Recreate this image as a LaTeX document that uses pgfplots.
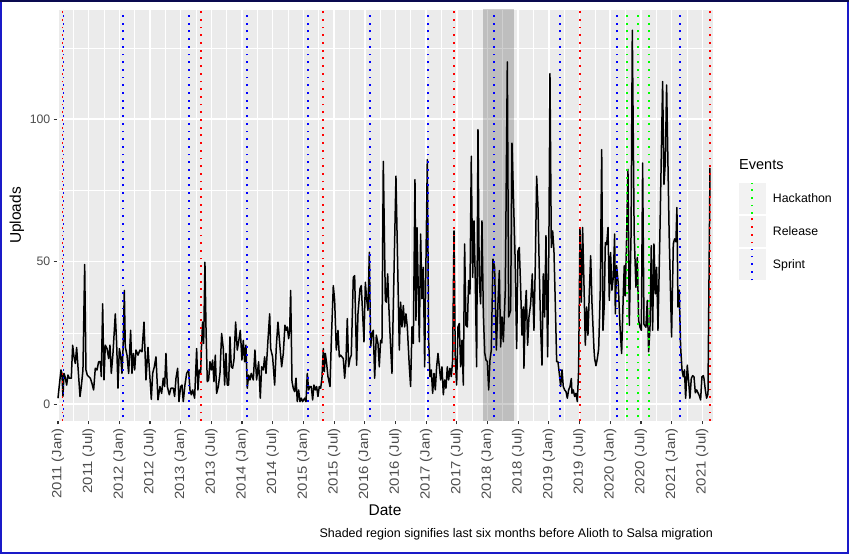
\documentclass[border=0pt]{standalone}
\usepackage{pgfplots}
\pgfplotsset{compat=1.18}
\usepackage{fontspec}
\setmainfont{Liberation Sans}
\newfontfamily\rotfont[FakeStretch=1.12]{Liberation Sans}
\definecolor{panelbg}{HTML}{EBEBEB}
\definecolor{keybg}{HTML}{F2F2F2}
\definecolor{tickcol}{HTML}{333333}
\definecolor{ticklab}{HTML}{4D4D4D}
\definecolor{frameblue}{HTML}{1A1AC8}
\definecolor{framenavy}{HTML}{0A0A50}
\definecolor{sprintc}{HTML}{0000FF}
\definecolor{releasec}{HTML}{FF0000}
\definecolor{hackc}{HTML}{00FF00}
\newcommand{\smallfont}{\fontsize{12.3}{14}\selectfont}
\newcommand{\rotsmall}{\rotfont\fontsize{13.3}{15}\selectfont}
\newcommand{\bigfont}{\fontsize{15.5}{18}\selectfont}
\begin{document}
\begin{tikzpicture}[x=1pt,y=1pt]
\path[use as bounding box] (0,0) rectangle (849,554);
\begin{axis}[
  at={(57pt,133pt)}, anchor=south west,
  scale only axis, width=656pt, height=411pt,
  xmin=2010.984, xmax=2021.675, ymin=-5.9, ymax=138.3,
  axis background/.style={fill=panelbg},
  axis line style={draw=none},
  xtick={2011,2011.5,2012,2012.5,2013,2013.5,2014,2014.5,2015,2015.5,2016,2016.5,2017,2017.5,2018,2018.5,2019,2019.5,2020,2020.5,2021,2021.5},
  xticklabels={2011 (Jan),2011 (Jul),2012 (Jan),2012 (Jul),2013 (Jan),2013 (Jul),2014 (Jan),2014 (Jul),2015 (Jan),2015 (Jul),2016 (Jan),2016 (Jul),2017 (Jan),2017 (Jul),2018 (Jan),2018 (Jul),2019 (Jan),2019 (Jul),2020 (Jan),2020 (Jul),2021 (Jan),2021 (Jul)},
  minor xtick={2011.25,2011.75,2012.25,2012.75,2013.25,2013.75,2014.25,2014.75,2015.25,2015.75,2016.25,2016.75,2017.25,2017.75,2018.25,2018.75,2019.25,2019.75,2020.25,2020.75,2021.25},
  ytick={0,50,100}, yticklabels={0,50,100}, minor ytick={25,75,125},
  grid=both,
  major grid style={white, line width=1.5pt},
  minor grid style={white, line width=0.75pt},
  tick align=outside, xtick pos=bottom, ytick pos=left,
  major tick style={draw=tickcol, line width=1.2pt},
  major tick length=3.5pt, minor tick length=0pt,
  xticklabel shift=3.5pt, yticklabel shift=3pt,
  xticklabel style={rotate=90, anchor=east, font=\rotsmall, text=ticklab, inner sep=0pt},
  yticklabel style={anchor=east, font=\smallfont, text=ticklab, inner sep=0pt},
  xlabel={Date}, xlabel style={at={(axis description cs:0.5,-0.2165)}, anchor=center, font=\bigfont},
  ylabel={Uploads}, ylabel style={at={(axis description cs:-0.061,0.5)}, anchor=center, font=\bigfont},
  legend style={at={(axis description cs:1.0396,0.5822)}, anchor=north west, draw=none, fill=none,
    inner sep=0pt, outer sep=0pt, row sep=0pt,
    nodes={font=\smallfont, inner sep=0pt, text=black, anchor=west}},
  legend cell align=left,
  legend image code/.code={
    \path[draw=none, fill=keybg] (0pt,-15.7pt) rectangle (27pt,15.7pt);
    \path[draw=none, fill=none] (0pt,0pt) -- (34pt,0pt);
    \draw[#1] (13pt,-15.7pt) -- (13pt,15.7pt);
  },
  unbounded coords=jump,
]
% shaded region
\addplot[draw=none, fill=black, fill opacity=0.19, forget plot] coordinates {(2017.926,-10) (2017.926,150) (2018.427,150) (2018.427,-10)} -- cycle;
% uploads
\addplot[black, line width=1.5pt, line join=round, forget plot] table {
2011.000 2.1
2011.022 6.7
2011.049 12.0
2011.065 10.8
2011.081 2.7
2011.098 10.8
2011.119 9.4
2011.141 6.7
2011.163 10.2
2011.185 9.1
2011.217 9.1
2011.239 20.7
2011.261 16.6
2011.282 14.3
2011.304 19.9
2011.326 13.1
2011.359 2.7
2011.380 6.2
2011.407 12.0
2011.435 49.0
2011.456 12.0
2011.478 10.2
2011.500 9.7
2011.527 9.1
2011.554 7.3
2011.581 5.0
2011.608 12.6
2011.636 12.0
2011.663 14.9
2011.690 14.9
2011.706 9.7
2011.728 35.2
2011.750 8.5
2011.771 20.7
2011.799 19.5
2011.826 16.0
2011.847 20.7
2011.869 10.8
2011.896 17.8
2011.934 31.7
2011.956 21.3
2011.978 5.6
2012.000 19.5
2012.021 17.2
2012.043 10.8
2012.062 20.0
2012.081 39.9
2012.097 20.1
2012.125 17.2
2012.152 10.8
2012.184 25.9
2012.206 10.8
2012.228 17.8
2012.250 12.0
2012.271 19.0
2012.304 17.2
2012.336 19.0
2012.369 18.4
2012.402 28.8
2012.434 8.5
2012.467 19.9
2012.494 10.8
2012.521 1.7
2012.543 10.8
2012.570 13.1
2012.597 16.6
2012.630 1.5
2012.662 6.2
2012.689 3.8
2012.716 9.1
2012.738 6.2
2012.760 17.8
2012.782 6.2
2012.814 3.3
2012.841 5.6
2012.879 5.6
2012.901 2.7
2012.923 9.1
2012.950 12.6
2012.972 0.9
2012.999 6.2
2013.021 6.7
2013.042 0.9
2013.069 6.7
2013.097 10.8
2013.129 12.0
2013.151 5.0
2013.173 3.3
2013.194 5.0
2013.227 2.1
2013.260 19.5
2013.281 5.0
2013.303 12.0
2013.325 10.8
2013.336 19.0
2013.357 28.8
2013.374 21.3
2013.395 49.8
2013.412 27.1
2013.433 7.9
2013.455 8.5
2013.477 14.9
2013.499 12.0
2013.520 15.5
2013.542 7.9
2013.564 17.2
2013.585 3.8
2013.613 6.2
2013.640 10.8
2013.667 24.8
2013.694 19.5
2013.716 6.7
2013.738 17.8
2013.759 6.7
2013.781 6.7
2013.803 23.6
2013.824 13.1
2013.846 12.6
2013.868 15.5
2013.895 28.8
2013.922 19.0
2013.944 21.9
2013.971 25.9
2013.998 15.5
2014.020 22.4
2014.042 14.9
2014.063 20.7
2014.085 5.6
2014.107 10.2
2014.129 8.5
2014.150 10.8
2014.183 8.5
2014.210 19.0
2014.237 8.5
2014.270 14.9
2014.297 2.1
2014.319 13.1
2014.346 12.0
2014.368 16.6
2014.390 10.8
2014.422 22.4
2014.450 31.7
2014.466 19.5
2014.498 16.6
2014.531 6.7
2014.558 20.1
2014.585 28.8
2014.618 20.1
2014.645 13.1
2014.672 17.8
2014.699 27.7
2014.721 25.9
2014.737 27.1
2014.759 23.0
2014.776 25.9
2014.792 39.9
2014.814 7.9
2014.835 5.6
2014.857 4.4
2014.879 9.1
2014.900 0.9
2014.922 5.0
2014.944 0.9
2014.966 2.1
2014.987 0.9
2015.020 2.1
2015.042 0.9
2015.063 10.8
2015.085 5.0
2015.107 6.2
2015.129 6.2
2015.150 1.5
2015.172 6.7
2015.194 5.0
2015.215 6.2
2015.237 2.7
2015.259 6.2
2015.281 5.6
2015.302 9.1
2015.324 19.5
2015.340 11.4
2015.357 17.8
2015.378 14.3
2015.400 9.7
2015.433 6.2
2015.455 22.4
2015.487 41.6
2015.509 36.4
2015.536 19.0
2015.563 25.9
2015.585 16.6
2015.607 17.2
2015.628 16.6
2015.650 16.0
2015.672 9.1
2015.694 15.5
2015.715 30.0
2015.737 13.1
2015.759 16.0
2015.780 17.2
2015.813 44.5
2015.835 45.1
2015.867 13.7
2015.889 31.7
2015.922 40.5
2015.943 41.6
2015.965 31.7
2015.987 21.9
2016.009 42.8
2016.030 37.0
2016.052 32.9
2016.074 53.3
2016.096 20.1
2016.117 24.8
2016.139 25.9
2016.161 9.1
2016.188 24.2
2016.215 21.3
2016.237 13.1
2016.258 22.4
2016.280 21.5
2016.302 85.2
2016.335 36.4
2016.351 35.8
2016.373 45.7
2016.389 36.0
2016.411 24.8
2016.443 10.8
2016.508 80.0
2016.536 48.7
2016.563 19.0
2016.584 35.8
2016.606 27.1
2016.628 34.6
2016.650 27.1
2016.671 31.7
2016.693 27.1
2016.726 13.1
2016.747 6.2
2016.769 27.1
2016.791 21.3
2016.818 78.8
2016.834 29.4
2016.851 61.9
2016.872 39.9
2016.889 21.9
2016.910 59.7
2016.932 37.0
2016.954 48.0
2016.976 13.1
2016.997 50.3
2017.019 85.8
2017.041 22.4
2017.062 9.7
2017.084 12.0
2017.106 3.8
2017.128 10.8
2017.149 5.0
2017.171 13.1
2017.193 17.8
2017.215 13.1
2017.236 8.5
2017.258 13.1
2017.280 3.3
2017.301 8.5
2017.323 5.6
2017.345 13.1
2017.367 8.5
2017.388 12.6
2017.410 9.7
2017.432 15.5
2017.454 60.8
2017.475 15.5
2017.497 6.7
2017.519 27.1
2017.540 28.3
2017.562 13.1
2017.584 22.4
2017.606 6.7
2017.627 56.2
2017.649 27.7
2017.671 27.1
2017.693 43.4
2017.714 38.7
2017.736 87.0
2017.758 44.5
2017.780 64.3
2017.801 43.4
2017.823 13.1
2017.845 96.3
2017.866 43.4
2017.888 35.2
2017.910 64.3
2017.932 31.7
2017.955 18.0
2017.975 15.5
2017.997 15.0
2018.019 5.0
2018.040 15.5
2018.062 19.0
2018.089 50.9
2018.116 48.0
2018.144 19.0
2018.170 35.0
2018.193 46.9
2018.214 20.1
2018.236 30.6
2018.258 21.9
2018.290 40.0
2018.323 120.1
2018.345 30.6
2018.377 32.9
2018.399 91.6
2018.448 52.7
2018.475 19.5
2018.497 53.8
2018.518 55.0
2018.540 41.0
2018.562 24.2
2018.584 34.1
2018.594 12.6
2018.616 34.1
2018.632 39.9
2018.654 20.7
2018.676 30.6
2018.703 35.2
2018.730 45.7
2018.757 25.9
2018.780 50.0
2018.801 80.0
2018.823 69.0
2018.844 46.9
2018.866 27.1
2018.888 13.7
2018.909 45.7
2018.931 30.6
2018.953 59.1
2018.980 16.6
2019.000 55.0
2019.018 116.0
2019.040 55.0
2019.062 60.8
2019.083 53.8
2019.105 35.2
2019.127 14.9
2019.148 14.9
2019.170 10.8
2019.192 6.2
2019.214 12.0
2019.235 6.2
2019.257 5.0
2019.279 4.4
2019.301 2.1
2019.322 5.0
2019.344 6.2
2019.366 9.0
2019.377 3.8
2019.398 5.0
2019.420 2.7
2019.442 3.8
2019.464 0.9
2019.485 12.0
2019.507 61.4
2019.529 35.8
2019.550 62.0
2019.572 42.2
2019.594 20.7
2019.616 34.1
2019.637 24.2
2019.659 38.7
2019.681 52.1
2019.703 35.2
2019.735 19.5
2019.746 16.0
2019.768 13.5
2019.790 16.0
2019.812 19.5
2019.838 40.0
2019.861 89.3
2019.882 25.9
2019.903 35.0
2019.920 56.7
2019.942 56.0
2019.964 62.0
2019.985 36.4
2020.006 53.2
2020.028 40.0
2020.050 44.5
2020.072 59.7
2020.083 31.7
2020.104 48.6
2020.131 42.2
2020.160 27.0
2020.186 17.8
2020.215 40.0
2020.229 48.6
2020.245 38.0
2020.263 55.0
2020.289 82.4
2020.311 27.7
2020.340 60.0
2020.360 131.2
2020.390 60.0
2020.419 41.0
2020.441 51.5
2020.463 29.4
2020.485 27.0
2020.507 25.9
2020.528 84.6
2020.550 28.0
2020.582 27.0
2020.604 36.4
2020.626 18.4
2020.648 27.0
2020.669 55.6
2020.691 25.9
2020.713 56.2
2020.734 38.7
2020.756 48.0
2020.778 25.9
2020.810 60.0
2020.854 113.2
2020.876 77.1
2020.898 85.0
2020.919 112.0
2020.960 60.0
2021.000 23.6
2021.028 56.2
2021.049 58.0
2021.071 57.0
2021.087 69.0
2021.104 34.1
2021.125 40.0
2021.147 20.1
2021.170 12.0
2021.191 9.6
2021.210 12.0
2021.229 2.1
2021.256 13.7
2021.278 8.0
2021.299 2.1
2021.321 9.0
2021.343 10.0
2021.365 9.6
2021.387 4.0
2021.409 5.0
2021.430 4.0
2021.452 3.0
2021.473 1.5
2021.495 9.6
2021.517 10.0
2021.528 9.0
2021.550 5.0
2021.571 2.1
2021.593 3.5
2021.626 82.9
};
% sprints (blue), legend entry added later
\addplot[sprintc, line width=1.8pt, dash pattern=on 1.8pt off 5.9pt, forget plot] coordinates {
(2011.090,-10) (2011.090,150) (2011.090,nan)
(2012.064,-10) (2012.064,150) (2012.064,nan)
(2013.140,-10) (2013.140,150) (2013.140,nan)
(2014.080,-10) (2014.080,150) (2014.080,nan)
(2015.070,-10) (2015.070,150) (2015.070,nan)
(2016.090,-10) (2016.090,150) (2016.090,nan)
(2017.030,-10) (2017.030,150) (2017.030,nan)
(2018.110,-10) (2018.110,150) (2018.110,nan)
(2019.186,-10) (2019.186,150) (2019.186,nan)
(2020.110,-10) (2020.110,150) (2020.110,nan)
(2021.137,-10) (2021.137,150)
};
\addplot[hackc, line width=1.8pt, dash pattern=on 1.8pt off 5.9pt] coordinates {
(2020.270,-10) (2020.270,150) (2020.270,nan)
(2020.457,-10) (2020.457,150) (2020.457,nan)
(2020.627,-10) (2020.627,150)
};
\addlegendentry{Hackathon}
\addplot[releasec, line width=1.8pt, dash pattern=on 1.8pt off 5.9pt, dash phase=3.85pt] coordinates {
(2011.073,-10) (2011.073,150) (2011.073,nan)
(2013.335,-10) (2013.335,150) (2013.335,nan)
(2015.314,-10) (2015.314,150) (2015.314,nan)
(2017.460,-10) (2017.460,150) (2017.460,nan)
(2019.512,-10) (2019.512,150) (2019.512,nan)
(2021.626,-10) (2021.626,150)
};
\addlegendentry{Release}
\addlegendimage{sprintc, line width=1.8pt, dash pattern=on 1.8pt off 5.9pt}
\addlegendentry{Sprint}
\end{axis}
\node[anchor=west, inner sep=0pt, font=\fontsize{14.5}{17}\selectfont] at (739,389) {Events};
\node[anchor=east, inner sep=0pt, font=\fontsize{12.5}{15}\selectfont] at (713,19.5) {Shaded region signifies last six months before Alioth to Salsa migration};
\draw[frameblue, line width=2pt] (1,1) rectangle (848,553);
\draw[framenavy, line width=2pt] (0,553) -- (849,553);
\end{tikzpicture}
\end{document}
